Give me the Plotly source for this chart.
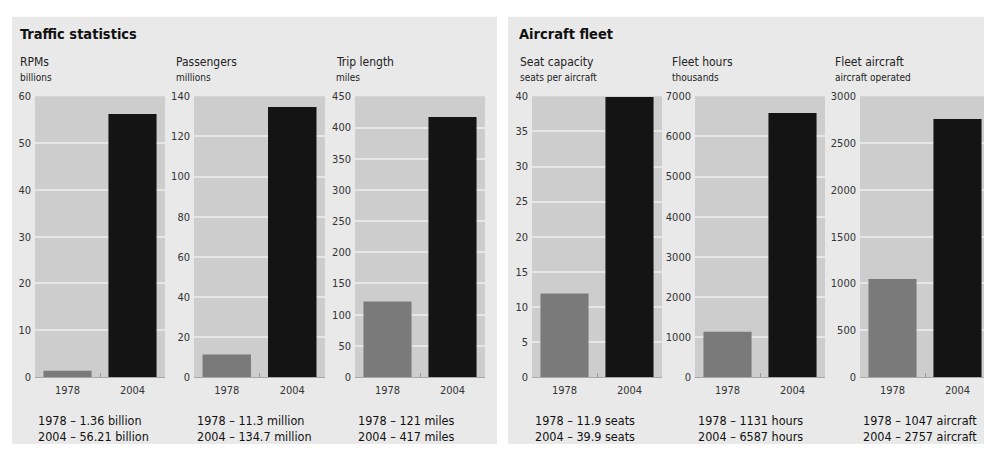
import plotly.graph_objects as go

W, H = 984, 454

# ---- data ----
years = ["1978", "2004"]
rpms = [1.36, 56.21]
passengers = [11.3, 134.7]
trip_length = [121, 417]
seat_capacity = [11.9, 39.9]
fleet_hours = [1131, 6587]
fleet_aircraft = [1047, 2757]

titles = ["RPMs", "Passengers", "Trip length", "Seat capacity", "Fleet hours", "Fleet aircraft"]
units = ["billions", "millions", "miles", "seats per aircraft", "thousands", "aircraft operated"]
y_max = [60, 140, 450, 40, 7000, 3000]
y_step = [10, 20, 50, 5, 1000, 500]
labels_unit = ["billion", "million", "miles", "seats", "hours", "aircraft"]
value_text = [["1.36", "56.21"], ["11.3", "134.7"], ["121", "417"],
              ["11.9", "39.9"], ["1131", "6587"], ["1047", "2757"]]
series = [rpms, passengers, trip_length, seat_capacity, fleet_hours, fleet_aircraft]
panel_titles = ["Traffic statistics", "Aircraft fleet"]

# ---- layout geometry (pixels) ----
plot_x = [(35, 165), (194, 325), (355, 485), (532, 662), (695, 825), (860, 984)]
title_x = [18, 174, 334, 518, 670, 833]
plot_top, plot_bot = 93, 382
FONT = "DejaVu Sans Condensed, Liberation Sans Narrow, Arial Narrow, sans-serif"
bar_colors = ["#7a7a7a", "#141414"]

def px(x):
    return x / W

def py(y):
    return 1 - y / H

fig = go.Figure()
layout = dict(
    width=W, height=H, margin=dict(l=0, r=0, t=0, b=0),
    paper_bgcolor="white", plot_bgcolor="rgba(0,0,0,0)", showlegend=False,
    bargap=0.26, font=dict(family=FONT, color="#222"),
)

shapes = [
    dict(type="rect", xref="paper", yref="paper", x0=px(12), x1=px(497), y0=py(451), y1=py(11),
         fillcolor="#e9e9e9", line=dict(width=0), layer="below"),
    dict(type="rect", xref="paper", yref="paper", x0=px(508), x1=px(990), y0=py(451), y1=py(11),
         fillcolor="#e9e9e9", line=dict(width=0), layer="below"),
]
annotations = []
for i, (t, xx) in enumerate(zip(panel_titles, [18, 517])):
    annotations.append(dict(text="<b>" + t + "</b>", x=px(xx), y=py(29), xref="paper", yref="paper",
                            xanchor="left", yanchor="middle", showarrow=False,
                            font=dict(size=14.5, family=FONT, color="#111")))

for i in range(6):
    k = "" if i == 0 else str(i + 1)
    x0, x1 = plot_x[i]
    fig.add_trace(go.Bar(x=years, y=series[i], marker=dict(color=bar_colors, line=dict(width=0)),
                         xaxis="x" + k, yaxis="y" + k, hoverinfo="x+y"))
    xr = [-0.5, 1.5] if i < 5 else [-0.5, 1.5 - (130 - (x1 - x0)) / 65]
    layout["xaxis" + k] = dict(domain=[px(x0), px(x1)], anchor="y" + k, type="category",
                               range=xr, showgrid=False, showline=True, linecolor="#a8a8a8",
                               linewidth=1, ticks="inside", tickson="boundaries", ticklen=4,
                               tickcolor="#999", tickfont=dict(size=11, color="#333"),
                               ticklabelstandoff=3, fixedrange=True)
    layout["yaxis" + k] = dict(domain=[py(plot_bot), py(plot_top)], anchor="x" + k,
                               range=[0, y_max[i]], dtick=y_step[i], tick0=0,
                               showgrid=True, gridcolor="#e6e6e6", gridwidth=1.5,
                               zeroline=False, showline=False, ticks="",
                               tickfont=dict(size=11, color="#333"), ticklabelstandoff=3,
                               fixedrange=True)
    shapes.append(dict(type="rect", xref="x" + k + " domain", yref="y" + k + " domain",
                       x0=0, x1=1, y0=0, y1=1, fillcolor="#cdcdcd", line=dict(width=0),
                       layer="below"))
    annotations.append(dict(text=titles[i], x=px(title_x[i]), y=py(58), xref="paper", yref="paper",
                            xanchor="left", yanchor="middle", showarrow=False,
                            font=dict(size=12, color="#222")))
    annotations.append(dict(text=units[i], x=px(title_x[i]), y=py(74), xref="paper", yref="paper",
                            xanchor="left", yanchor="middle", showarrow=False,
                            font=dict(size=10, color="#222")))
    txt = "<br>".join(f"{years[j]} – {value_text[i][j]} {labels_unit[i]}" for j in range(2))
    annotations.append(dict(text=txt, x=px(x0 + 1), y=py(435), xref="paper", yref="paper",
                            xanchor="left", yanchor="middle", align="left", showarrow=False,
                            font=dict(size=12.5, color="#111")))

layout["shapes"] = shapes
layout["annotations"] = annotations
fig.update_layout(**layout)
fig.write_html("out.html")
